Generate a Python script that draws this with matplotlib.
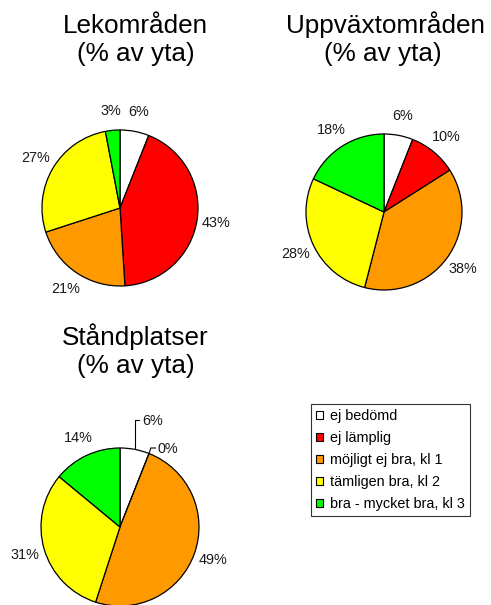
import matplotlib
matplotlib.use("Agg")
import matplotlib.pyplot as plt
from matplotlib.patches import Patch

plt.rcParams['font.family'] = ['Liberation Sans', 'DejaVu Sans']

categories = ["ej bedömd", "ej lämplig", "möjligt ej bra, kl 1",
              "tämligen bra, kl 2", "bra - mycket bra, kl 3"]
colors = ["#FFFFFF", "#FF0000", "#FF9900", "#FFFF00", "#00FF00"]

lek_values = [6, 43, 21, 27, 3]
uppvaxt_values = [6, 10, 38, 28, 18]
stand_values = [6, 0, 49, 31, 14]

titles = ["Lekområden", "Uppväxtområden", "Ståndplatser"]
subtitle = "(% av yta)"

W, H = 491, 605
fig = plt.figure(figsize=(W / 100, H / 100), dpi=100)


def pie_axes(cx, cy, r, s=125):
    ax = fig.add_axes([(cx - s) / W, 1 - (cy + s) / H, 2 * s / W, 2 * s / H])
    ax.axis('off')
    return ax, s / r


def draw_pie(ax, lim, values, pctdist=1.25):
    wedges, texts, autotexts = ax.pie(
        values, colors=colors, startangle=90, counterclock=False,
        wedgeprops=dict(edgecolor='black', linewidth=0.9),
        autopct='%1.0f%%', pctdistance=pctdist, radius=1.0)
    ax.set_xlim(-lim, lim)
    ax.set_ylim(-lim, lim)
    ax.set_aspect('equal')
    for t in autotexts:
        t.set_fontsize(10.4)
        t.set_color('#1a1a1a')
        t.set_clip_on(False)
    for w in wedges:
        w.set_clip_on(False)
    return wedges, autotexts


ax1, l1 = pie_axes(120, 208, 78)
draw_pie(ax1, l1, lek_values)
ax2, l2 = pie_axes(384, 212, 78)
draw_pie(ax2, l2, uppvaxt_values)
ax3, l3 = pie_axes(120, 527, 79)
w3, at3 = draw_pie(ax3, l3, stand_values)

# leader-line labels for small slices in pie 3
at3[0].set_position((0.28, 1.34))
at3[0].set_ha('left')
at3[1].set_position((0.47, 0.99))
at3[1].set_ha('left')
ax3.plot([0.187, 0.187, 0.24], [0.982, 1.35, 1.35], color='black', lw=0.8, clip_on=False)
ax3.plot([0.368, 0.39, 0.45], [0.93, 1.0, 1.0], color='black', lw=0.8, clip_on=False)

# titles (x1, baseline1, x2, baseline2)
title_pos = [(135.5, 33, 136, 61.5), (385.5, 33, 383, 61.5), (135, 345, 136, 373.5)]
for (x1, y1, x2, y2), t in zip(title_pos, titles):
    fig.text(x1 / W, 1 - y1 / H, t, ha='center', va='baseline', fontsize=18.8)
    fig.text(x2 / W, 1 - y2 / H, subtitle, ha='center', va='baseline', fontsize=18.8)

handles = [Patch(facecolor=c, edgecolor='black', linewidth=0.8) for c in colors]
leg = fig.legend(handles, categories, loc='upper left',
                 bbox_to_anchor=(311 / W, 1 - 404 / H),
                 fontsize=10.4, frameon=True, fancybox=False,
                 handlelength=0.5, handleheight=0.5, handletextpad=0.45,
                 labelspacing=0.56, borderpad=0.35, borderaxespad=0)
leg.get_frame().set_edgecolor('black')
leg.get_frame().set_linewidth(0.8)

fig.savefig("out.png", dpi=100)
